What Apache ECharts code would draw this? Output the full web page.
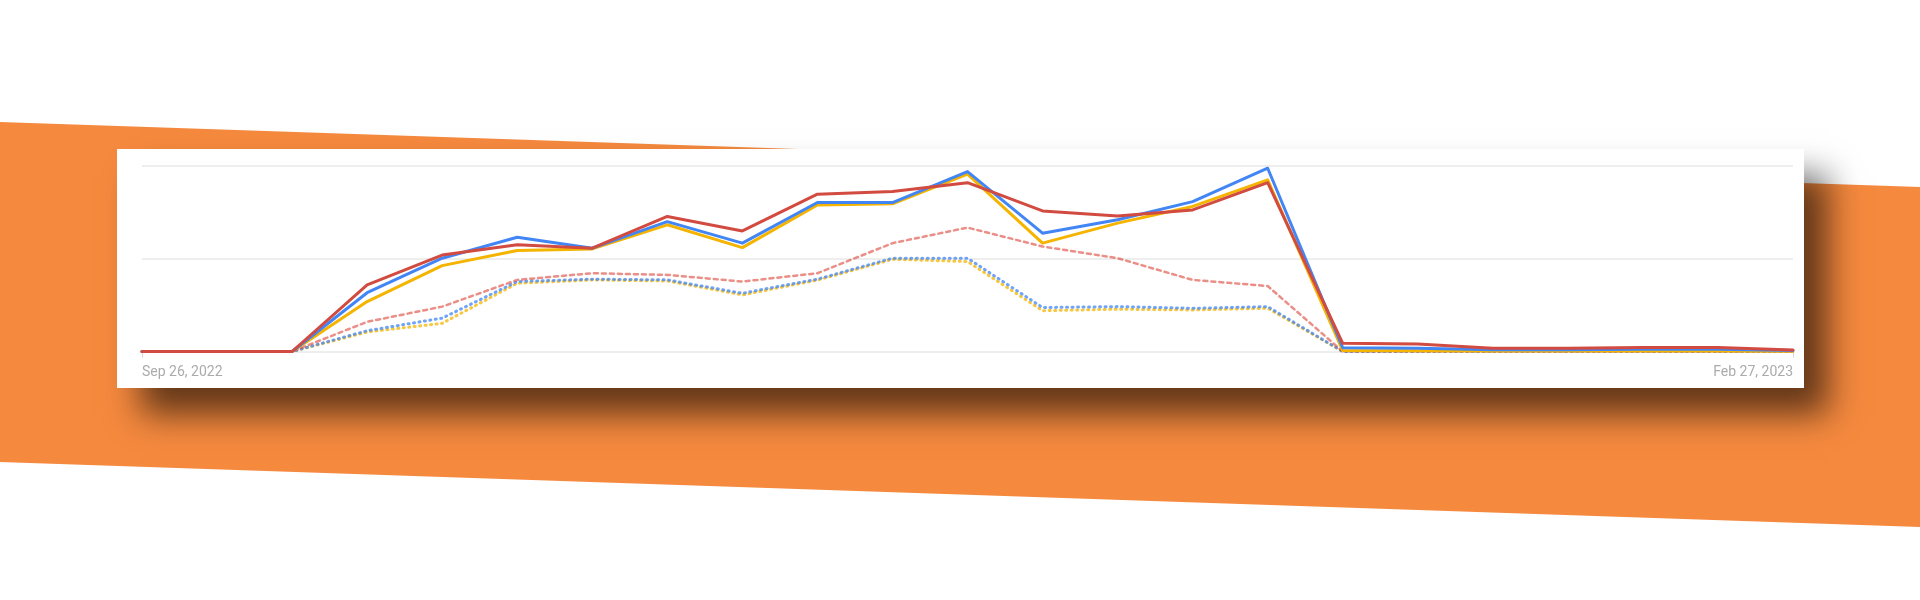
<!DOCTYPE html>
<html>
<head>
<meta charset="utf-8">
<style>
  html, body { margin: 0; padding: 0; background: #ffffff; }
  #chart { width: 1920px; height: 600px; }
</style>
<script src="https://cdn.jsdelivr.net/npm/echarts@6/dist/echarts.min.js"></script>
</head>
<body>
<div id="chart"></div>
<script>
// Weekly dates, Sep 26 2022 .. Feb 27 2023
const categories = [
  'Sep 26, 2022','Oct 3, 2022','Oct 10, 2022','Oct 17, 2022','Oct 24, 2022','Oct 31, 2022',
  'Nov 7, 2022','Nov 14, 2022','Nov 21, 2022','Nov 28, 2022','Dec 5, 2022','Dec 12, 2022',
  'Dec 19, 2022','Dec 26, 2022','Jan 2, 2023','Jan 9, 2023','Jan 16, 2023','Jan 23, 2023',
  'Jan 30, 2023','Feb 6, 2023','Feb 13, 2023','Feb 20, 2023','Feb 27, 2023'
];
const blueSolid   = [0,0,0,31.7,50.3,61.6,55.7,70,58.4,80.3,80.3,97,63.8,71,80.8,98.8,2,1.7,1,1,1.2,1.2,0.5];
const redSolid    = [0,0,0,35.9,52,57.5,55.7,72.8,65,84.8,86.3,91,75.8,73,76.3,91,4.4,4,1.7,1.7,2.2,2.2,0.8];
const yellowSolid = [0,0,0,26.9,46.3,54.4,55.3,68.3,56,79,79.6,95.6,58.4,69.2,78.2,92.5,0.5,0.4,0.3,0.3,0.3,0.3,0.2];
const redDotted    = [0,0,0,16,24.2,38.6,42.2,41.3,37.7,42.2,58.4,66.8,56.6,50.3,38.6,35.3,0,0,0,0,0,0,0];
const blueDotted   = [0,0,0,11.2,18,37.7,39,38.6,31.4,39,50.3,50.3,23.7,24.2,23.3,24.2,0,0,0,0,0,0,0];
const yellowDotted = [0,0,0,10.5,15.2,36.8,38.6,38,30.5,38.5,49.7,48.5,22,22.8,22.4,23.3,0,0,0,0,0,0,0];

const chart = echarts.init(document.getElementById('chart'), null, { renderer: 'canvas' });
const lastIdx = categories.length - 1;
const showEnds = (i) => i === 0 || i === lastIdx;

function line(name, data, color, width, type, z) {
  return {
    name, type: 'line', data, symbol: 'none', silent: true, z,
    lineStyle: { color, width, type, cap: 'round', join: 'round' }
  };
}

chart.setOption({
  animation: false,
  graphic: [
    {
      type: 'polygon', z: -20, silent: true,
      shape: { points: [[0,122],[1920,187],[1920,527],[0,462]] },
      style: { fill: '#F5893E' }
    },
    {
      type: 'rect', z: -10, silent: true,
      shape: { x: 117, y: 149, width: 1687, height: 239 },
      style: {
        fill: '#ffffff',
        shadowBlur: 32, shadowOffsetX: 24, shadowOffsetY: 26,
        shadowColor: 'rgba(0,0,0,0.6)'
      }
    }
  ],
  grid: { left: 142, right: 127, top: 166, bottom: 248.5, containLabel: false },
  xAxis: {
    type: 'category', data: categories, boundaryGap: false,
    axisLine: { show: false },
    axisTick: { show: true, interval: (i) => showEnds(i), length: 6, lineStyle: { color: '#d6d6d6' } },
    axisLabel: {
      interval: (i) => showEnds(i),
      showMinLabel: true, showMaxLabel: true,
      alignMinLabel: 'left', alignMaxLabel: 'right',
      color: '#ababab', fontSize: 14, fontFamily: 'Roboto', margin: 14
    },
    splitLine: { show: false }
  },
  yAxis: {
    type: 'value', min: 0, max: 100, interval: 50,
    axisLine: { show: false }, axisTick: { show: false }, axisLabel: { show: false },
    splitLine: { show: true, lineStyle: { color: '#e8e8e8', width: 1.5 } }
  },
  series: [
    line('Yellow (previous)', yellowDotted, 'rgba(244,180,0,0.75)', 3, [1, 4.5], 2),
    line('Blue (previous)', blueDotted, 'rgba(66,133,244,0.75)', 3, [1, 4.5], 3),
    line('Red (previous)', redDotted, 'rgba(219,68,55,0.6)', 2.5, [4, 4], 4),
    line('Yellow', yellowSolid, '#F4B400', 3, 'solid', 5),
    line('Blue', blueSolid, '#4285F4', 3, 'solid', 6),
    line('Red', redSolid, '#D24B40', 3, 'solid', 7)
  ]
});
</script>
</body>
</html>
